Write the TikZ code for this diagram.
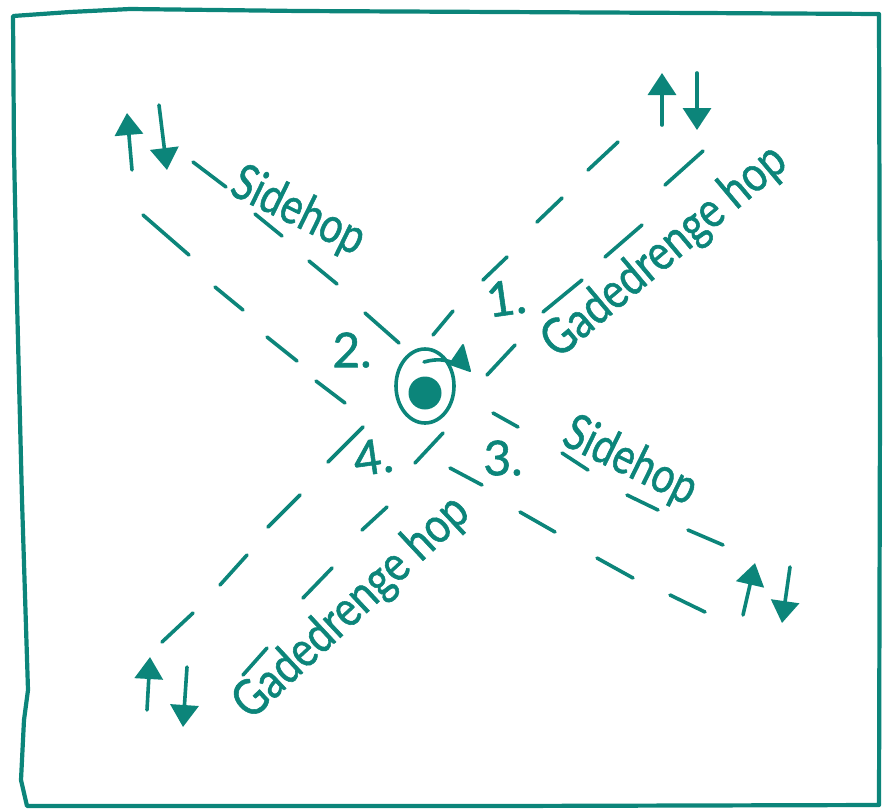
\documentclass[tikz,border=0pt]{standalone}
\usepackage{fontspec}
\setmainfont{Lato}
\newfontfamily\hand[FakeBold=1.2]{Lato}
\usetikzlibrary{arrows.meta}
\definecolor{ink}{RGB}{12,133,122}
\begin{document}
\begin{tikzpicture}[x=1pt,y=-1pt,
  pen/.style={draw=ink,line width=3.6pt,line cap=round,line join=round},
  dsh/.style={pen},
  arr/.style={pen,-{Triangle[length=22pt,width=28pt]}},
  lbl/.style={text=ink,inner sep=0pt,font=\hand\fontsize{50}{54}\selectfont},
  num/.style={text=ink,inner sep=0pt,font=\hand\fontsize{48}{52}\selectfont}]
\useasboundingbox (0,0) rectangle (883,809);
% frame
\draw[pen,line width=4.2pt] (13,16) -- (70,12) -- (130,9) -- (300,11) -- (500,12) -- (700,13) -- (879,14)
  -- (880,400) -- (879,805) -- (500,806) -- (200,806) -- (27,806)
  -- (21,780) -- (24,720) -- (28,690) -- (22,500) -- (17,300) -- (14,150) -- cycle;
% upper-left (Sidehop)
\draw[dsh] (193,162) -- (226,187);
\draw[dsh] (255,214) -- (282,236);
\draw[dsh] (309,261) -- (337,284);
\draw[dsh] (365,313) -- (399,343);
\draw[dsh] (143,215) -- (189,255);
\draw[dsh] (215,287) -- (243,310);
\draw[dsh] (267,337) -- (297,361);
\draw[dsh] (316,381) -- (345,403);
% upper-right (Gadedrengehop 1.)
\draw[dsh] (433,335) -- (453,311);
\draw[dsh] (483,280) -- (507,257);
\draw[dsh] (537,222) -- (562,198);
\draw[dsh] (588,170) -- (618,142);
\draw[dsh] (487,375) -- (515,345);
\draw[dsh] (543,312) -- (582,280);
\draw[dsh] (605,257) -- (642,225);
\draw[dsh] (665,185) -- (703,151);
% lower-left (Gadedrengehop 4.)
\draw[dsh] (162,642) -- (193,613);
\draw[dsh] (220,585) -- (247,555);
\draw[dsh] (268,527) -- (300,495);
\draw[dsh] (328,462) -- (363,427);
\draw[dsh] (243,675) -- (267,648);
\draw[dsh] (303,598) -- (332,568);
\draw[dsh] (362,530) -- (387,507);
\draw[dsh] (415,463) -- (443,433);
% lower-right (Sidehop 3.)
\draw[dsh] (493,413) -- (518,427);
\draw[dsh] (562,453) -- (588,470);
\draw[dsh] (627,495) -- (658,510);
\draw[dsh] (688,530) -- (723,545);
\draw[dsh] (450,468) -- (482,485);
\draw[dsh] (520,512) -- (555,532);
\draw[dsh] (597,558) -- (633,578);
\draw[dsh] (670,595) -- (705,612);
% arrows
\draw[arr] (132,170) -- (127,113);
\draw[arr] (159,105) -- (167,170);
\draw[arr] (662,125) -- (662,73);
\draw[arr] (697,73) -- (697,130);
\draw[arr] (147,710) -- (150,657);
\draw[arr] (187,667) -- (183,727);
\draw[arr] (743,615) -- (755,563);
\draw[arr] (790,567) -- (782,623);
% centre
\draw[pen] (425,386) ellipse [x radius=29, y radius=37];
\fill[ink] (425,393) circle [radius=16.5];
\draw[pen] (424,362) .. controls (438,358) and (448,360) .. (455,364);
\fill[ink,draw=ink,line width=2pt,line join=round] (450,364) -- (463,345) -- (470,371) -- cycle;
% labels
\node[lbl,rotate=-26,xscale=0.8] (sideA) at (298,212) {Sidehop};
\node[lbl,rotate=-26,xscale=0.8] (sideB) at (630,462) {Sidehop};
\node[lbl,rotate=40,xscale=0.83] (gadeA) at (665,252) {Gadedrenge hop};
\node[lbl,rotate=43,xscale=0.83] (gadeB) at (352,608) {Gadedrenge hop};
\node[num,rotate=8] (n1) at (506,298) {1.};
\node[num] (n2) at (352,350) {2.};
\node[num] (n3) at (503,458) {3.};
\node[num,rotate=8] (n4) at (373,457) {4.};
\end{tikzpicture}
\end{document}
